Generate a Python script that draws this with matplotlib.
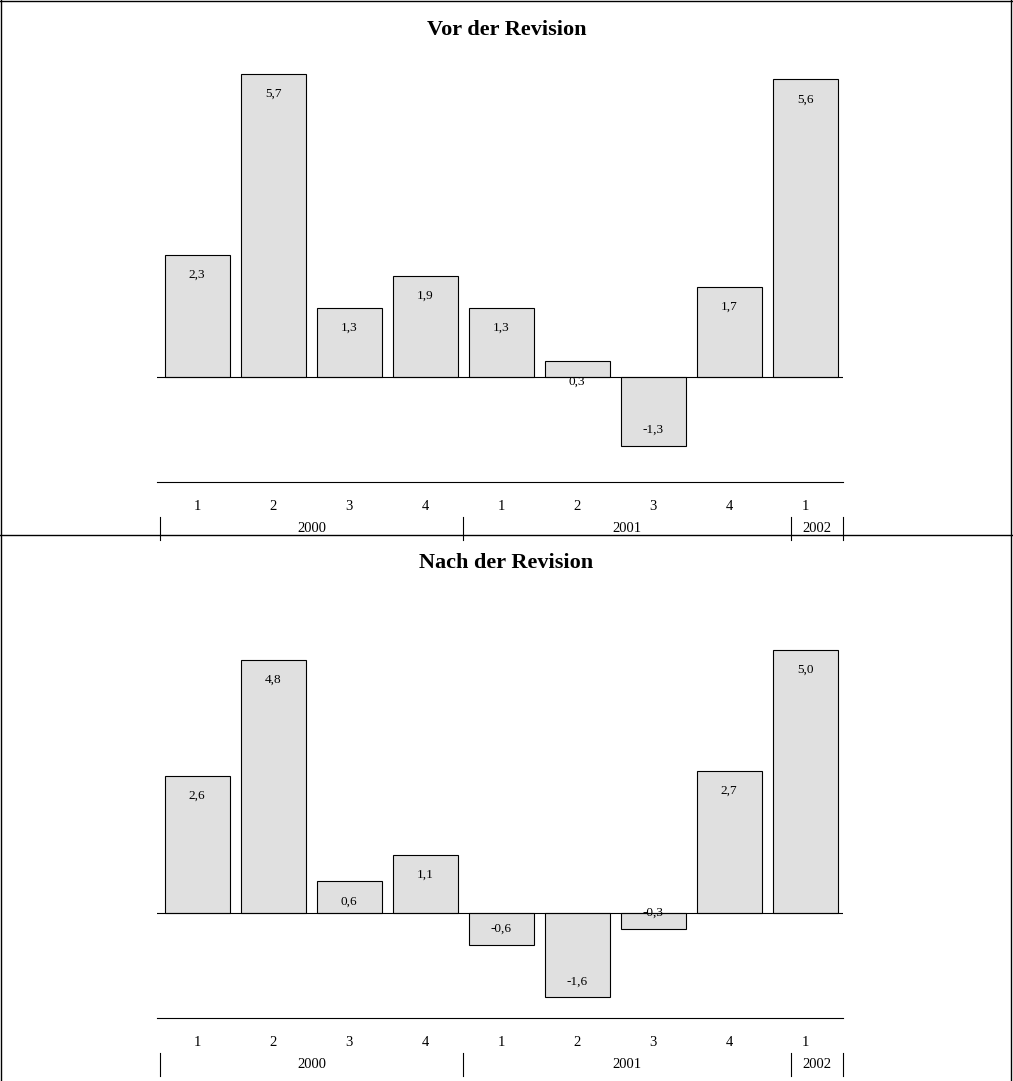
import matplotlib
matplotlib.use("Agg")
import matplotlib.pyplot as plt
from matplotlib.lines import Line2D

plt.rcParams['font.family'] = ['Liberation Serif', 'DejaVu Serif']

quarters = ['1', '2', '3', '4', '1', '2', '3', '4', '1']
years = ['2000', '2001', '2002']
vor = [2.3, 5.7, 1.3, 1.9, 1.3, 0.3, -1.3, 1.7, 5.6]
nach = [2.6, 4.8, 0.6, 1.1, -0.6, -1.6, -0.3, 2.7, 5.0]

W, H = 1013, 1081
fig = plt.figure(figsize=(W / 100, H / 100), dpi=100)


def fx(px):
    return px / W


def fy(py):
    return 1 - py / H


# outer frame and divider
for xs, ys in [([1, 1], [0, H]), ([W - 2, W - 2], [0, H]), ([0, W], [1, 1]),
               ([0, W], [535, 535])]:
    fig.add_artist(Line2D([fx(x) for x in xs], [fy(y) for y in ys],
                          color='black', lw=1))


def panel(title, values, top_px, zero_px, axis_px, scale, title_px):
    x0, x1 = 157, 843
    ax = fig.add_axes([fx(x0), fy(axis_px), fx(x1) - fx(x0), (axis_px - top_px) / H])
    ax.set_xlim(-40 / 76, -40 / 76 + (x1 - x0) / 76)
    ax.set_ylim(-(axis_px - zero_px) / scale, (zero_px - top_px) / scale)
    ax.axis('off')
    xs = range(len(values))
    ax.bar(xs, values, width=65 / 76, color='#e0e0e0', edgecolor='black', lw=0.8)
    ax.axhline(0, color='black', lw=0.8)
    ax.axhline(ax.get_ylim()[0], color='black', lw=0.8, clip_on=False)
    for i, v in enumerate(values):
        lab = f'{v:.1f}'.replace('.', ',')
        y = v - 0.38 if v > 0 else v + 0.3
        ax.text(i, y, lab, ha='center', va='center', fontsize=9.5)
    fig.text(0.5, fy(title_px), title, ha='center', va='center',
             fontsize=16, fontweight='bold')
    for i, q in enumerate(quarters):
        fig.text(fx(197 + 76 * i), fy(axis_px + 24), q, ha='center',
                 va='center', fontsize=10.5)
    seps = [160, 463, 791, 843]
    for s in seps:
        fig.add_artist(Line2D([fx(s), fx(s)], [fy(axis_px + 35), fy(axis_px + 58)],
                              color='black', lw=0.8))
    for k, yr in enumerate(years):
        cx = (seps[k] + seps[k + 1]) / 2
        fig.text(fx(cx), fy(axis_px + 47), yr, ha='center', va='center',
                 fontsize=10.5)
    return ax


panel('Vor der Revision', vor, 40, 377, 482, 53.2, 30)
panel('Nach der Revision', nach, 580, 913, 1018, 52.7, 563)

fig.savefig('out.png', dpi=100)
